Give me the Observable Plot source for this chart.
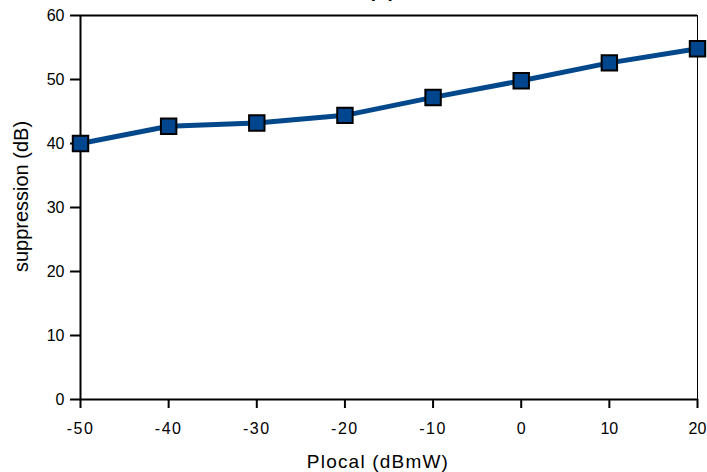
<!DOCTYPE html>
<html>
<head>
<meta charset="utf-8">
<script src="https://cdn.jsdelivr.net/npm/d3@7"></script>
<script src="https://cdn.jsdelivr.net/npm/@observablehq/plot@0.6"></script>
<style>
  html, body { margin: 0; padding: 0; background: #fff; }
  #wrap { position: relative; width: 707px; height: 472px; overflow: hidden; }
  #title {
    position: absolute; left: 290px; top: -30px;
    font-family: "Liberation Sans", Arial, sans-serif;
    font-size: 30px; line-height: 30px; white-space: nowrap; color: #000;
  }
</style>
</head>
<body>
<div id="wrap"><div id="title">LO suppression</div></div>
<script>
// LO suppression versus local oscillator power
const plocal = [-50, -40, -30, -20, -10, 0, 10, 20];
const suppression = [40.0, 42.7, 43.2, 44.4, 47.2, 49.8, 52.6, 54.8];
const xTicks = [-50, -40, -30, -20, -10, 0, 10, 20];
const yTicks = [0, 10, 20, 30, 40, 50, 60];
const xLabel = "Plocal (dBmW)";
const yLabel = "suppression (dB)";

const data = plocal.map((p, i) => ({p, s: suppression[i]}));
const blue = "#04488c";

const chart = Plot.plot({
  width: 707,
  height: 472,
  marginLeft: 80,
  marginRight: 10,
  marginTop: 15,
  marginBottom: 73,
  style: {fontFamily: "'Liberation Sans', Arial, sans-serif", fontSize: "16px", color: "#000", background: "transparent", overflow: "visible"},
  x: {domain: [-50, 20]},
  y: {domain: [0, 60]},
  marks: [
    // box: heavier bottom/left/top, thin right edge
    Plot.ruleY([60], {stroke: "#000", strokeWidth: 2}),
    Plot.ruleX([20], {stroke: "#000", strokeWidth: 1}),
    Plot.axisX({ticks: xTicks, tickFormat: d => String(d), tickSize: 9, tickPadding: 14, strokeWidth: 2, label: null, fontSize: 16}),
    Plot.axisY({ticks: yTicks, tickFormat: d => String(d), tickSize: 10, tickPadding: 6, strokeWidth: 2, label: null, fontSize: 16}),
    Plot.ruleY([0], {stroke: "#000", strokeWidth: 2}),
    Plot.ruleX([-50], {stroke: "#000", strokeWidth: 2}),
    Plot.text([xLabel], {frameAnchor: "bottom", dx: -11, dy: 62, fontSize: 19, lineAnchor: "middle"}),
    Plot.text([yLabel], {frameAnchor: "left", textAnchor: "middle", rotate: -90, dx: -59, dy: -11, fontSize: 20}),
    Plot.line(data, {x: "p", y: "s", stroke: blue, strokeWidth: 5, curve: "linear"}),
    Plot.dot(data, {x: "p", y: "s", symbol: "square", r: 8.7, fill: "#00468e", stroke: "#000", strokeWidth: 2})
  ]
});
document.getElementById("wrap").prepend(chart);
chart.style.position = "absolute";
chart.style.left = "0";
chart.style.top = "0";
// slightly looser spacing on the bottom labels
chart.querySelectorAll("text").forEach(t => {
  const s = t.textContent;
  if (s === xLabel) t.setAttribute("letter-spacing", "1.2");
  else if (xTicks.map(String).includes(s) && s.startsWith("-")) t.setAttribute("letter-spacing", "1.5");
});
</script>
</body>
</html>
